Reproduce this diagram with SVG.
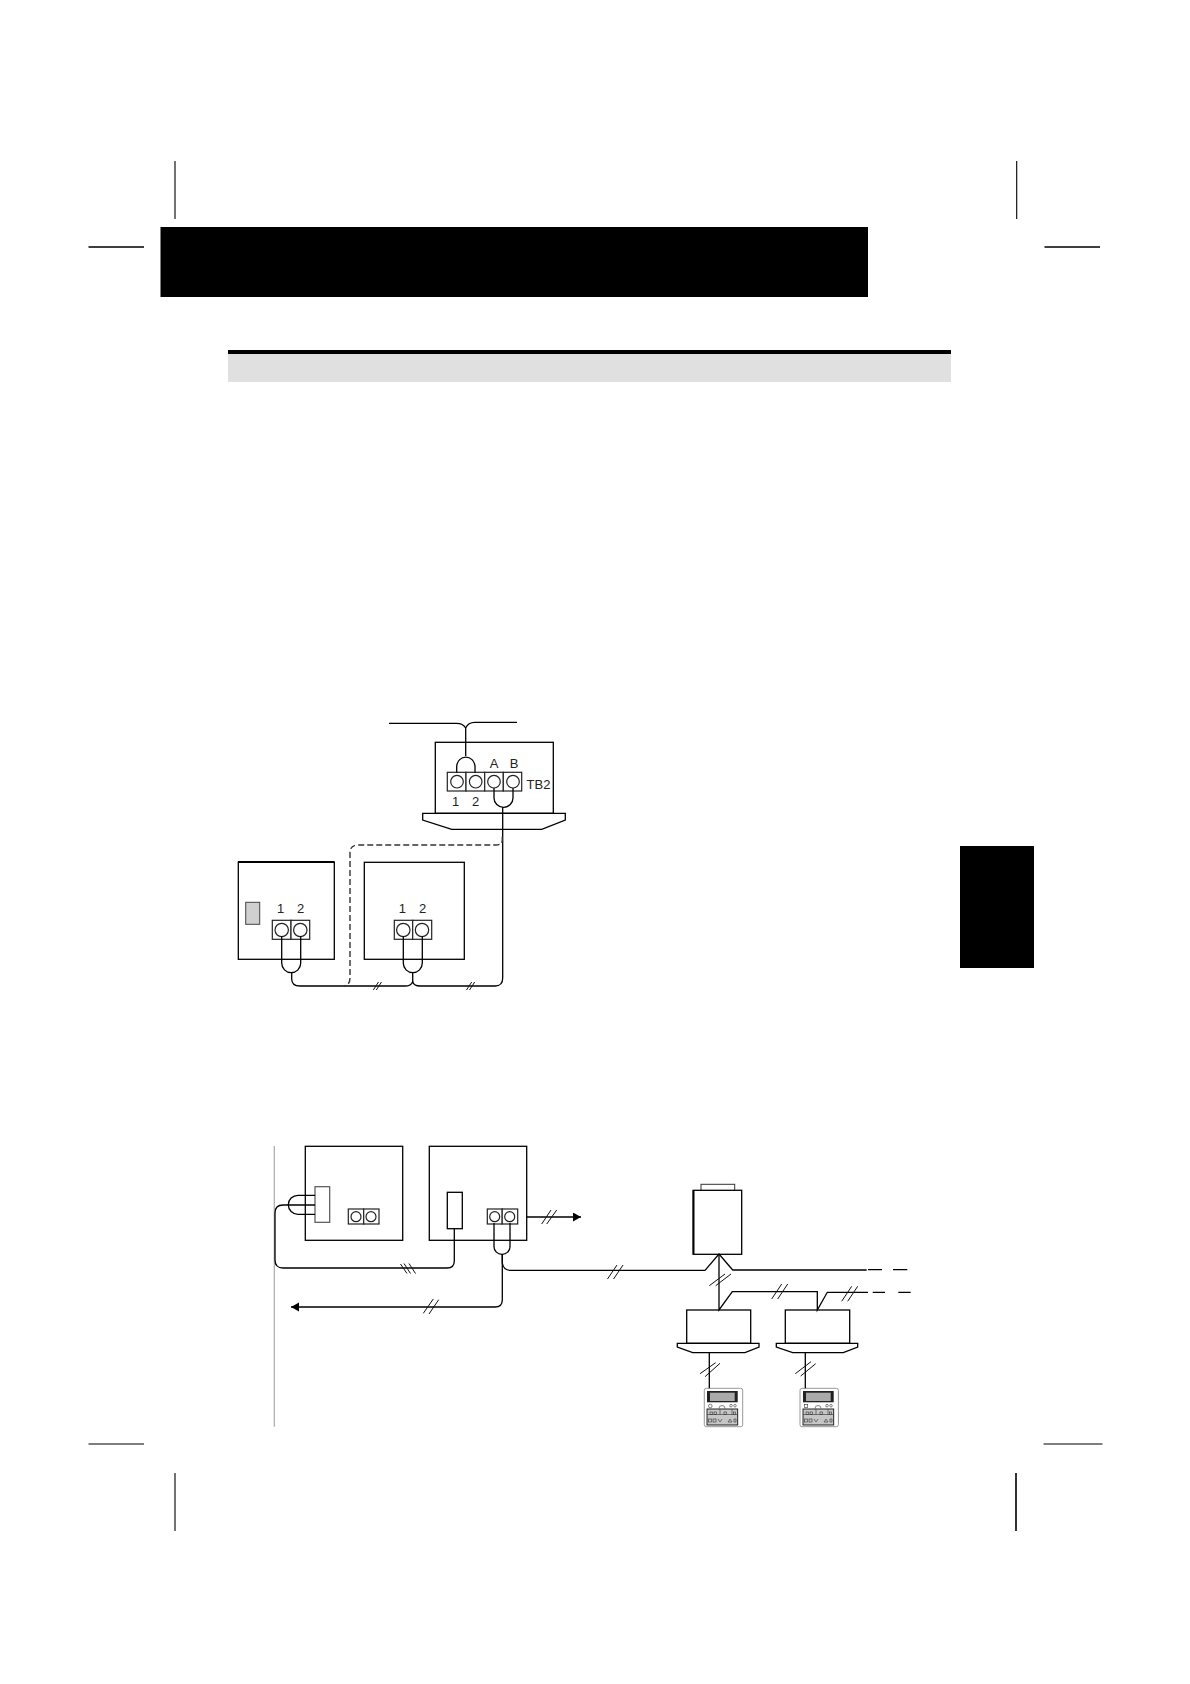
<svg xmlns="http://www.w3.org/2000/svg" xmlns:xlink="http://www.w3.org/1999/xlink" width="1190" height="1684" viewBox="0 0 1190 1684">
<style>
.l{fill:none;stroke:#000;stroke-width:1.3}
.t{fill:none;stroke:#111;stroke-width:1}
.b{fill:#fff;stroke:#000;stroke-width:1.3}
.c{fill:#fff;stroke:#222;stroke-width:1.2}
.d{fill:none;stroke:#333;stroke-width:1.4;stroke-dasharray:6 3}
.k{fill:none;stroke:#333;stroke-width:.6}
text{font-family:"Liberation Sans",Arial,sans-serif;font-size:13px;fill:#222;text-anchor:middle}
</style>
<defs>
<marker id="arrow" markerUnits="userSpaceOnUse" markerWidth="9" markerHeight="10" refX="8" refY="4.5" orient="auto"><path d="M0 0L8 4.5L0 9z" fill="#000"/></marker>
<g id="keys">
<rect x="0" y="0" width="30.7" height="16" fill="#c6c6c6" stroke="#111" stroke-width=".9"/>
<path class="k" d="M0 5.5H30.7M13 0V5.500M25 0V5.500"/>
<rect class="k" x="3" y="3" width="2.500" height="2.500"/><rect class="k" x="7" y="3" width="2.500" height="2.500"/><rect class="k" x="17" y="3" width="2.500" height="2.500"/><rect class="k" x="26.500" y="3" width="2" height="2.500"/>
<rect class="k" x="1.500" y="10" width="3" height="3"/><rect class="k" x="6" y="10" width="3" height="3"/><path class="k" d="M11 10L13 13L15 10M21 13L23 10L25 13H21M27 10H29V13H27z"/>
</g>
<g id="screen">
<rect x="0" y="0" width="30.7" height="11.3" fill="#222"/>
<rect x="3" y="1.700" width="24.7" height="8.300" fill="#aaa"/>
</g>
</defs>
<g id="crop-marks" stroke="#000" fill="none">
<path stroke-width="1.100" d="M175 161V219M1016.700 161V219M175 1473V1531"/>
<path stroke-width="1.600" d="M1016 1473V1531M88.500 247H144M1044.500 247H1100"/>
<path stroke-width="1.100" d="M88.500 1444H144M1043.500 1444H1102.500"/>
</g>
<g id="header"><rect x="160.500" y="227" width="707.500" height="70" fill="#000"/></g>
<g id="section-bar"><rect x="228" y="354" width="723" height="28" fill="#e0e0e0"/><rect x="228" y="350" width="723" height="4" fill="#000"/></g>
<g id="side-tab"><rect x="960" y="846" width="74" height="122" fill="#000"/></g>

<g id="controller">
<rect class="b" x="435.300" y="742.300" width="118" height="71"/>
<path class="b" d="M422.700 813.300H565.300V820L541.700 829.300H451.700L422.700 820z"/>
<rect class="c" x="447.300" y="772.300" width="18.700" height="18.700"/><rect class="c" x="466" y="772.300" width="18.700" height="18.700"/><rect class="c" x="484.700" y="772.300" width="18.600" height="18.700"/><rect class="c" x="503.300" y="772.300" width="18.400" height="18.700"/>
<circle class="c" cx="457" cy="781.700" r="6.300"/><circle class="c" cx="475.700" cy="781.700" r="6.300"/><circle class="c" cx="494" cy="781.700" r="6.300"/><circle class="c" cx="513" cy="781.700" r="6.300"/>
<text x="494" y="768">A</text><text x="514" y="768">B</text><text x="455.500" y="805.500">1</text><text x="475.500" y="805.500">2</text><text x="538.500" y="788.500">TB2</text>
</g>
<g id="unit-left">
<rect class="b" x="238.300" y="862.300" width="96" height="97"/>
<path d="M238 862H334.500" stroke="#000" stroke-width="2.200"/>
<rect x="245.700" y="902.300" width="14" height="22" fill="#d0d0d0" stroke="#444"/>
<rect class="c" x="272.300" y="920.300" width="18.700" height="19"/><rect class="c" x="291" y="920.300" width="18.700" height="19"/>
<circle class="c" cx="281.700" cy="930" r="6.700"/><circle class="c" cx="300.300" cy="930" r="6.700"/>
<text x="280.700" y="913.300">1</text><text x="300.700" y="913.300">2</text>
</g>
<g id="unit-middle">
<rect class="b" x="364.300" y="862.300" width="100" height="97"/>
<rect class="c" x="394.300" y="920.300" width="18.400" height="19"/><rect class="c" x="412.700" y="920.300" width="19" height="19"/>
<circle class="c" cx="403.300" cy="930" r="6.700"/><circle class="c" cx="422" cy="930" r="6.700"/>
<text x="402.300" y="913.300">1</text><text x="422.700" y="913.300">2</text>
</g>
<g id="unit-a">
<rect class="b" x="305.300" y="1146.300" width="97.400" height="94"/>
<rect x="315" y="1186.700" width="14.700" height="35.600" fill="#fff" stroke="#555" stroke-width="1.200"/>
<rect class="c" x="348.300" y="1209" width="15.400" height="15"/><rect class="c" x="363.700" y="1209" width="15.300" height="15"/>
<circle class="c" cx="356" cy="1216.700" r="5"/><circle class="c" cx="371" cy="1216.700" r="5"/>
</g>
<g id="unit-b">
<rect class="b" x="429.300" y="1146.300" width="97.400" height="94"/>
<rect class="b" x="447.300" y="1192.300" width="15" height="36.400"/>
<rect class="c" x="487.300" y="1209" width="14.900" height="15"/><rect class="c" x="502.200" y="1209" width="15.500" height="15"/>
<circle class="c" cx="494.700" cy="1216.700" r="5"/><circle class="c" cx="509.700" cy="1216.700" r="5"/>
</g>
<g id="outdoor-unit">
<rect x="701" y="1184.300" width="33.700" height="6.400" fill="#fff" stroke="#333" stroke-width="1"/>
<rect class="b" x="693.300" y="1190.300" width="48.400" height="64"/>
<path d="M693.500 1190V1254.500" stroke="#000" stroke-width="2"/>
</g>
<g id="indoor-1">
<rect class="b" x="686.700" y="1310" width="64" height="33.300"/>
<path class="b" d="M677.300 1343.300H759V1347L745 1352.700H692.700L677.300 1347z"/>
</g>
<g id="indoor-2">
<rect class="b" x="785.300" y="1310" width="64.400" height="33.300"/>
<path class="b" d="M776.300 1343.300H857.700V1347L843.300 1352.700H792.700L776.300 1347z"/>
</g>
<g id="remote-1">
<rect x="704.300" y="1388.300" width="38.400" height="38.400" rx="2" fill="#fff" stroke="#999"/>
<use xlink:href="#screen" href="#screen" x="707" y="1391"/>
<circle class="k" cx="710.300" cy="1406" r="1.800"/><path class="k" d="M719 1408.500a3 3 0 0 1 6 0"/><circle class="k" cx="731" cy="1405.700" r="1.300"/><circle class="k" cx="735" cy="1405.700" r="1.300"/>
<use xlink:href="#keys" href="#keys" x="707" y="1409"/>
</g>
<g id="remote-2">
<rect x="800" y="1388.300" width="38.400" height="38.400" rx="2" fill="#fff" stroke="#999"/>
<use xlink:href="#screen" href="#screen" x="803" y="1391"/>
<rect class="k" x="804.500" y="1404.300" width="3.200" height="3.200"/><path class="k" d="M815 1408.500a3 3 0 0 1 6 0"/><circle class="k" cx="827" cy="1405.700" r="1.300"/><circle class="k" cx="831" cy="1405.700" r="1.300"/>
<use xlink:href="#keys" href="#keys" x="803" y="1409"/>
</g>

<g id="connectors">
<path class="l" d="M389 723.300H456.500Q463 723.300 465.700 728Q468 722.300 475 722.300H517M465.700 728V756"/>
<path class="l" d="M456.700 772.700V766A9.200 10 0 0 1 475 766V772.700"/>
<path class="l" d="M494 788V798A9.500 9.300 0 0 0 513 798V788"/>
<path class="l" d="M502.700 807.300V978Q502.700 986 495 986H420Q414 986 412.700 981.700Q411 986 405 986H300Q291.700 986 291.700 979V972.700"/>
<path class="l" d="M281.700 936.500V963A9.500 9.700 0 0 0 300.700 963V936.500"/>
<path class="l" d="M403.300 936.500V963A9.500 9.700 0 0 0 422.300 963V936.500M412.700 972.700V981.700"/>
<path class="d" d="M502.300 836.700V840Q502.300 845 496 845H358Q350 845 350 853V978Q350 985 344 986"/>
<path class="t" d="M373.300 990L378.500 982M376.300 990L381.500 982M466.500 990L471.700 982M469.500 990L474.700 982"/>

<path stroke="#aaa" stroke-width="1.200" fill="none" d="M274.300 1146V1426.700"/>
<path class="l" d="M315 1195.300H298A9.700 9.500 0 0 0 298 1214.300H315M315 1205H283Q275 1205 275 1213V1260Q275 1268 283 1268H447Q454.300 1268 454.300 1261V1228.700"/>
<path class="t" d="M400.500 1264L407 1273.500M404 1263.500L410.500 1273.500M409 1263.500L415.500 1273.500"/>
<path class="l" d="M494 1223V1246.700A8 7.700 0 0 0 510 1246.700V1223"/>
<path class="l" d="M502.300 1254.300V1300Q502.300 1307 495 1307H291" marker-end="url(#arrow)"/>
<path class="t" d="M423.300 1313.300L433.300 1299M429 1314L438.700 1299.700"/>
<path class="l" d="M502.300 1254.300V1263Q503.500 1270.300 510 1270.300H705L719 1254L732.700 1270H866.700"/>
<path class="l" d="M868 1269.700H882M893 1269.700H907.300M872.700 1292.300H885M898.300 1292.300H910.700"/>
<path class="t" d="M607.500 1279L617 1265M613.600 1279L623 1265"/>
<path class="l" d="M526.700 1217H581" marker-end="url(#arrow)"/>
<path class="t" d="M541.700 1224L551 1210M546.700 1224L556.700 1210"/>
<path class="l" d="M719 1254V1310L732.300 1291.700H817.300V1310L827.300 1292.300H868"/>
<path class="t" d="M709.300 1285.700L725 1274M715.700 1285.700L731 1274M771.700 1299L781.700 1284M777.700 1299L787.700 1284M841.700 1301.300L851.700 1286.300M847.700 1301.300L857.700 1286.300"/>
<path class="l" d="M709.300 1352.700V1388.300M805.300 1352.700V1388.300"/>
<path class="t" d="M700 1373.700L715.700 1362.700M705 1376.700L720 1363.300M795.300 1373.700L811 1361.700M800.700 1376L815.700 1363.700"/>
</g>
</svg>
